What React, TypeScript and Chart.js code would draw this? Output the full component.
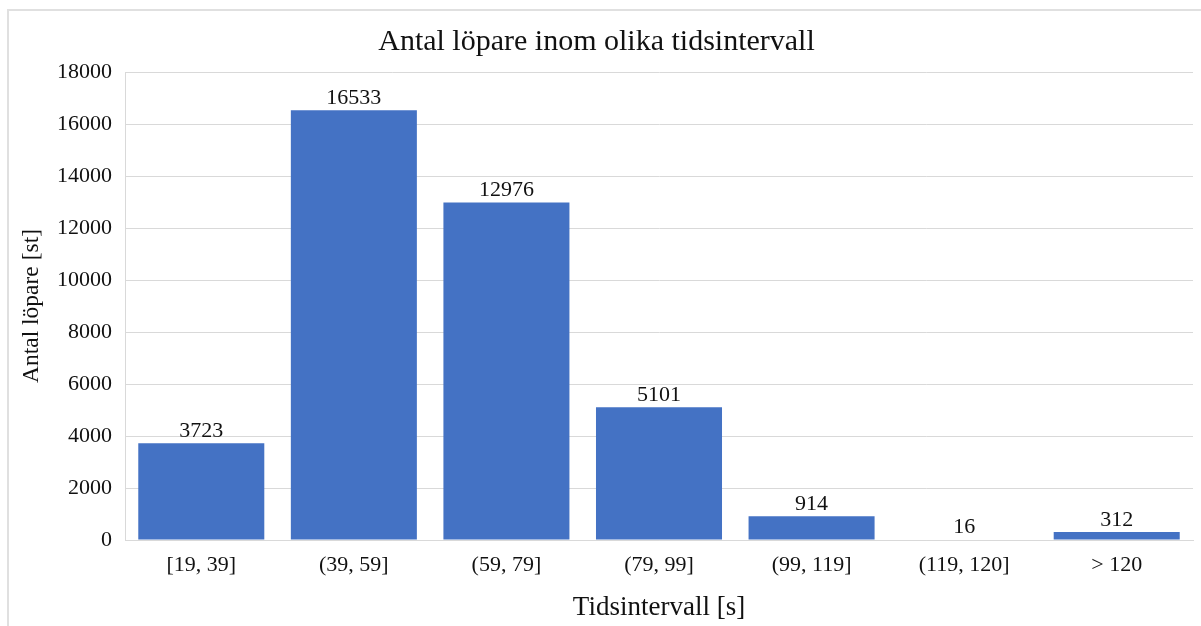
import React, { useEffect, useRef } from "react";
import { Chart, registerables } from "chart.js";

Chart.register(...registerables);

const categories = ["[19, 39]", "(39, 59]", "(59, 79]", "(79, 99]", "(99, 119]", "(119, 120]", "> 120"];
const runners = [3723, 16533, 12976, 5101, 914, 16, 312];
const yTicks = [0, 2000, 4000, 6000, 8000, 10000, 12000, 14000, 16000, 18000];

const FONT = "'Liberation Serif', 'Times New Roman', serif";

const frame = {
  id: "frame",
  beforeDraw(chart: any) {
    const ctx = chart.ctx;
    ctx.save();
    ctx.fillStyle = "#ffffff";
    ctx.fillRect(0, 0, chart.width, chart.height);
    ctx.fillStyle = "#e0e0e0";
    ctx.fillRect(7, 9, 2, chart.height - 9);
    ctx.fillRect(7, 9, chart.width - 7, 2);
    ctx.restore();
  },
};

const valueLabels = {
  id: "valueLabels",
  afterDatasetsDraw(chart: any) {
    const ctx = chart.ctx;
    const meta = chart.getDatasetMeta(0);
    ctx.save();
    ctx.font = `22px ${FONT}`;
    ctx.fillStyle = "#111111";
    ctx.textAlign = "center";
    ctx.textBaseline = "bottom";
    meta.data.forEach((bar: any, i: number) => {
      ctx.fillText(String(runners[i]), bar.x, bar.y - 1);
    });
    ctx.restore();
  },
};

export default function App() {
  const ref = useRef<HTMLCanvasElement | null>(null);
  useEffect(() => {
    if (!ref.current) return;
    const chart = new Chart(ref.current, {
      type: "bar",
      data: {
        labels: categories,
        datasets: [
          {
            data: runners,
            backgroundColor: "#4472C4",
            borderWidth: 0,
            barPercentage: 0.826,
            categoryPercentage: 1,
          },
        ],
      },
      options: {
        animation: false,
        responsive: false,
        maintainAspectRatio: false,
        layout: { padding: { left: 0, right: 8, top: 0, bottom: 0 } },
        plugins: {
          legend: { display: false },
          tooltip: { enabled: false },
          title: {
            display: true,
            text: "Antal löpare inom olika tidsintervall",
            color: "#111111",
            font: { family: FONT, size: 30, weight: "normal" },
            padding: { top: 24, bottom: 12 },
          },
        },
        scales: {
          x: {
            grid: { display: false, drawTicks: false },
            border: { display: true, color: "#d9d9d9", width: 1 },
            ticks: {
              color: "#111111",
              font: { family: FONT, size: 22 },
              padding: 12,
              maxRotation: 0,
              autoSkip: false,
            },
            title: {
              display: true,
              text: "Tidsintervall [s]",
              color: "#111111",
              font: { family: FONT, size: 27 },
              padding: { top: 4, bottom: 2 },
            },
            afterFit(s: any) {
              s.height = 86;
            },
          },
          y: {
            min: 0,
            max: 18000,
            afterBuildTicks(s: any) {
              s.ticks = yTicks.map((v) => ({ value: v }));
            },
            grid: { color: "#d9d9d9", drawTicks: false, lineWidth: 1 },
            border: { display: true, color: "#d9d9d9", width: 1 },
            ticks: {
              color: "#111111",
              font: { family: FONT, size: 22 },
              padding: 13,
              callback: (v: any) => String(v),
            },
            title: {
              display: true,
              text: "Antal löpare [st]",
              color: "#111111",
              font: { family: FONT, size: 23.5 },
              padding: { top: 18, bottom: 0 },
            },
            afterFit(s: any) {
              s.width = 125;
            },
          },
        },
      },
      plugins: [frame, valueLabels],
    });
    return () => chart.destroy();
  }, []);
  return (
    <div style={{ position: "absolute", left: 0, top: 0, width: 1201, height: 626 }}>
      <canvas ref={ref} width={1201} height={626} style={{ display: "block" }} />
    </div>
  );
}
